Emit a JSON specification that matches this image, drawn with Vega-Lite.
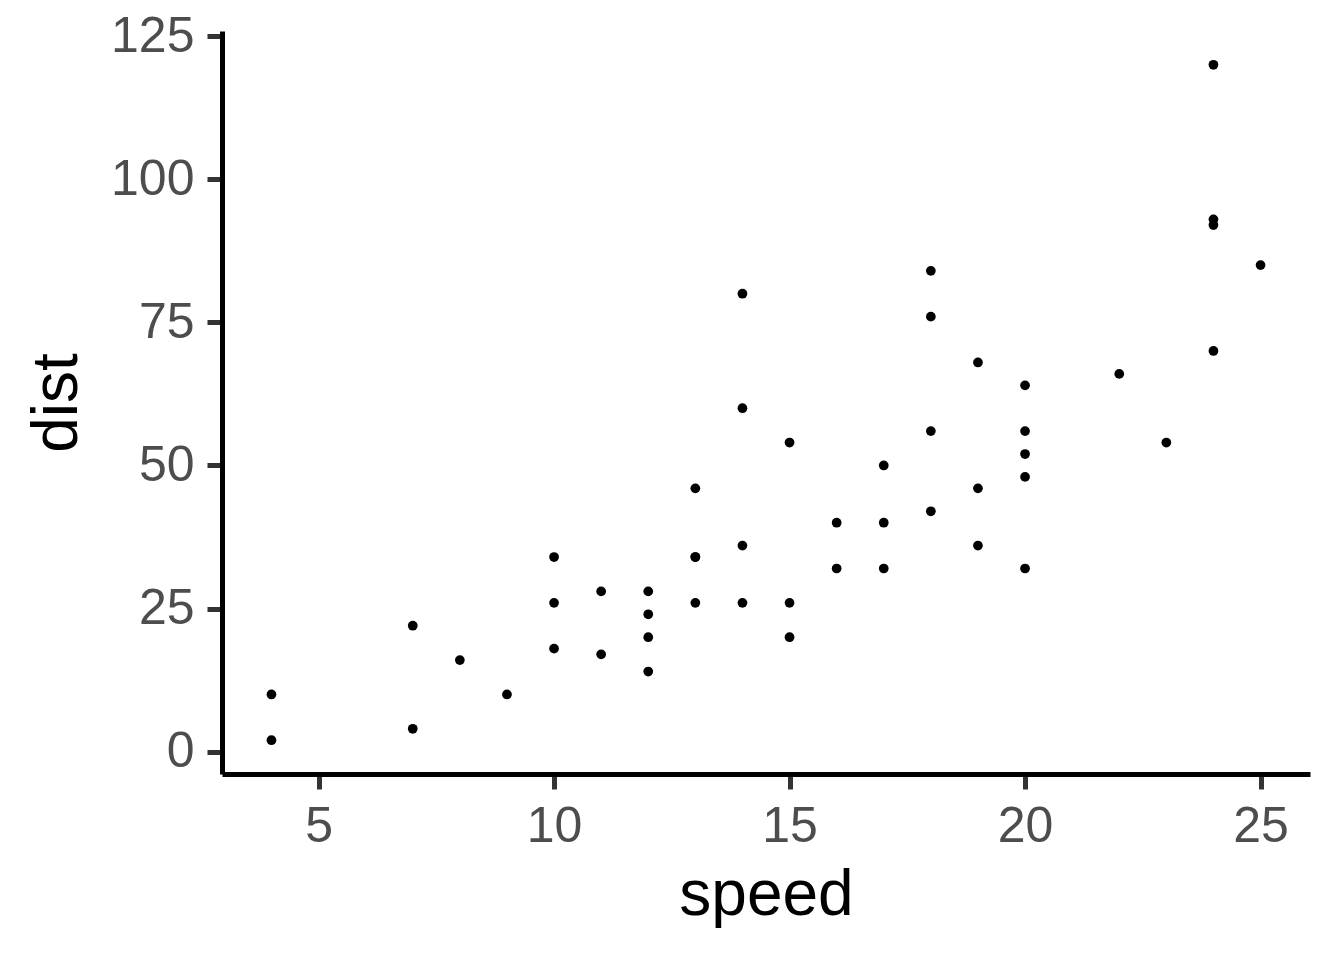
{
  "$schema": "https://vega.github.io/schema/vega-lite/v6.json",
  "autosize": "none",
  "width": 1088,
  "height": 743,
  "padding": {"left": 222, "top": 31, "right": 34, "bottom": 186},
  "background": "white",
  "config": {
    "view": {"stroke": null},
    "font": "Liberation Sans"
  },
  "data": {
    "values": [
      {"speed": 4, "dist": 2}, {"speed": 4, "dist": 10}, {"speed": 7, "dist": 4}, {"speed": 7, "dist": 22},
      {"speed": 8, "dist": 16}, {"speed": 9, "dist": 10}, {"speed": 10, "dist": 18}, {"speed": 10, "dist": 26},
      {"speed": 10, "dist": 34}, {"speed": 11, "dist": 17}, {"speed": 11, "dist": 28}, {"speed": 12, "dist": 14},
      {"speed": 12, "dist": 20}, {"speed": 12, "dist": 24}, {"speed": 12, "dist": 28}, {"speed": 13, "dist": 26},
      {"speed": 13, "dist": 34}, {"speed": 13, "dist": 34}, {"speed": 13, "dist": 46}, {"speed": 14, "dist": 26},
      {"speed": 14, "dist": 36}, {"speed": 14, "dist": 60}, {"speed": 14, "dist": 80}, {"speed": 15, "dist": 20},
      {"speed": 15, "dist": 26}, {"speed": 15, "dist": 54}, {"speed": 16, "dist": 32}, {"speed": 16, "dist": 40},
      {"speed": 17, "dist": 32}, {"speed": 17, "dist": 40}, {"speed": 17, "dist": 50}, {"speed": 18, "dist": 42},
      {"speed": 18, "dist": 56}, {"speed": 18, "dist": 76}, {"speed": 18, "dist": 84}, {"speed": 19, "dist": 36},
      {"speed": 19, "dist": 46}, {"speed": 19, "dist": 68}, {"speed": 20, "dist": 32}, {"speed": 20, "dist": 48},
      {"speed": 20, "dist": 52}, {"speed": 20, "dist": 56}, {"speed": 20, "dist": 64}, {"speed": 22, "dist": 66},
      {"speed": 23, "dist": 54}, {"speed": 24, "dist": 70}, {"speed": 24, "dist": 92}, {"speed": 24, "dist": 93},
      {"speed": 24, "dist": 120}, {"speed": 25, "dist": 85}
    ]
  },
  "mark": {"type": "circle", "size": 95, "color": "black", "opacity": 1},
  "encoding": {
    "x": {
      "field": "speed",
      "type": "quantitative",
      "scale": {"domain": [2.95, 26.05], "nice": false, "zero": false},
      "axis": {
        "values": [5, 10, 15, 20, 25],
        "grid": false,
        "domainColor": "black",
        "domainWidth": 5,
        "tickColor": "#333333",
        "tickWidth": 5,
        "tickSize": 15,
        "labelFontSize": 50,
        "labelColor": "#4D4D4D",
        "labelPadding": 12,
        "labelFont": "Liberation Sans",
        "title": "speed",
        "titleFontSize": 64,
        "titleFontWeight": "normal",
        "titleColor": "black",
        "titleFont": "Liberation Sans",
        "titleBaseline": "alphabetic",
        "titleY": 140
      }
    },
    "y": {
      "field": "dist",
      "type": "quantitative",
      "scale": {"domain": [-3.9, 125.9], "nice": false, "zero": false},
      "axis": {
        "values": [0, 25, 50, 75, 100, 125],
        "grid": false,
        "domainColor": "black",
        "domainWidth": 5,
        "tickColor": "#333333",
        "tickWidth": 5,
        "tickSize": 15,
        "labelFontSize": 50,
        "labelColor": "#4D4D4D",
        "labelPadding": 13,
        "labelFont": "Liberation Sans",
        "title": "dist",
        "titleFontSize": 64,
        "titleFontWeight": "normal",
        "titleColor": "black",
        "titleFont": "Liberation Sans",
        "titleBaseline": "alphabetic",
        "titleX": -146
      }
    }
  }
}
